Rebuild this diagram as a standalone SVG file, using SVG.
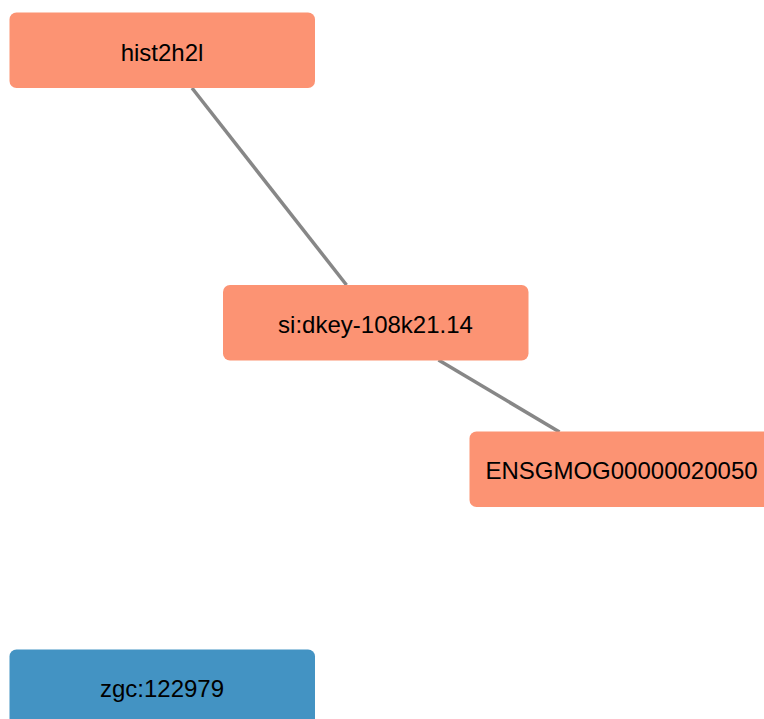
<svg xmlns="http://www.w3.org/2000/svg" width="764" height="719" viewBox="0 0 764 719">
  <style>
    .node rect { stroke: none; }
    .up rect { fill: #FC9373; }
    .down rect { fill: #4393C3; }
    .node text { font-family: "Liberation Sans", Arial, sans-serif; font-size: 24px; fill: #000; text-anchor: middle; }
    .edge { stroke: #878787; stroke-width: 3.5; fill: none; }
  </style>
  <rect width="764" height="719" fill="#ffffff"/>

  <!-- links -->
  <g id="edges">
    <line class="edge" x1="192" y1="88" x2="346.5" y2="285"/>
    <line class="edge" x1="438.5" y1="360" x2="559.5" y2="432"/>
  </g>

  <!-- genes -->
  <g id="hist2h2l" class="node up">
    <rect x="9.5" y="12.5" width="305.5" height="75.5" rx="7"/>
    <text x="162" y="61">hist2h2l</text>
  </g>
  <g id="si-dkey-108k21.14" class="node up">
    <rect x="223" y="285" width="305.5" height="75.5" rx="7"/>
    <text x="375.5" y="333">si:dkey-108k21.14</text>
  </g>
  <g id="ENSGMOG00000020050" class="node up">
    <rect x="469.5" y="431.5" width="305.5" height="75.5" rx="7"/>
    <text x="621.5" y="479">ENSGMOG00000020050</text>
  </g>
  <g id="zgc-122979" class="node down">
    <rect x="9.5" y="649.5" width="305.5" height="75.5" rx="7"/>
    <text x="162" y="697">zgc:122979</text>
  </g>
</svg>
